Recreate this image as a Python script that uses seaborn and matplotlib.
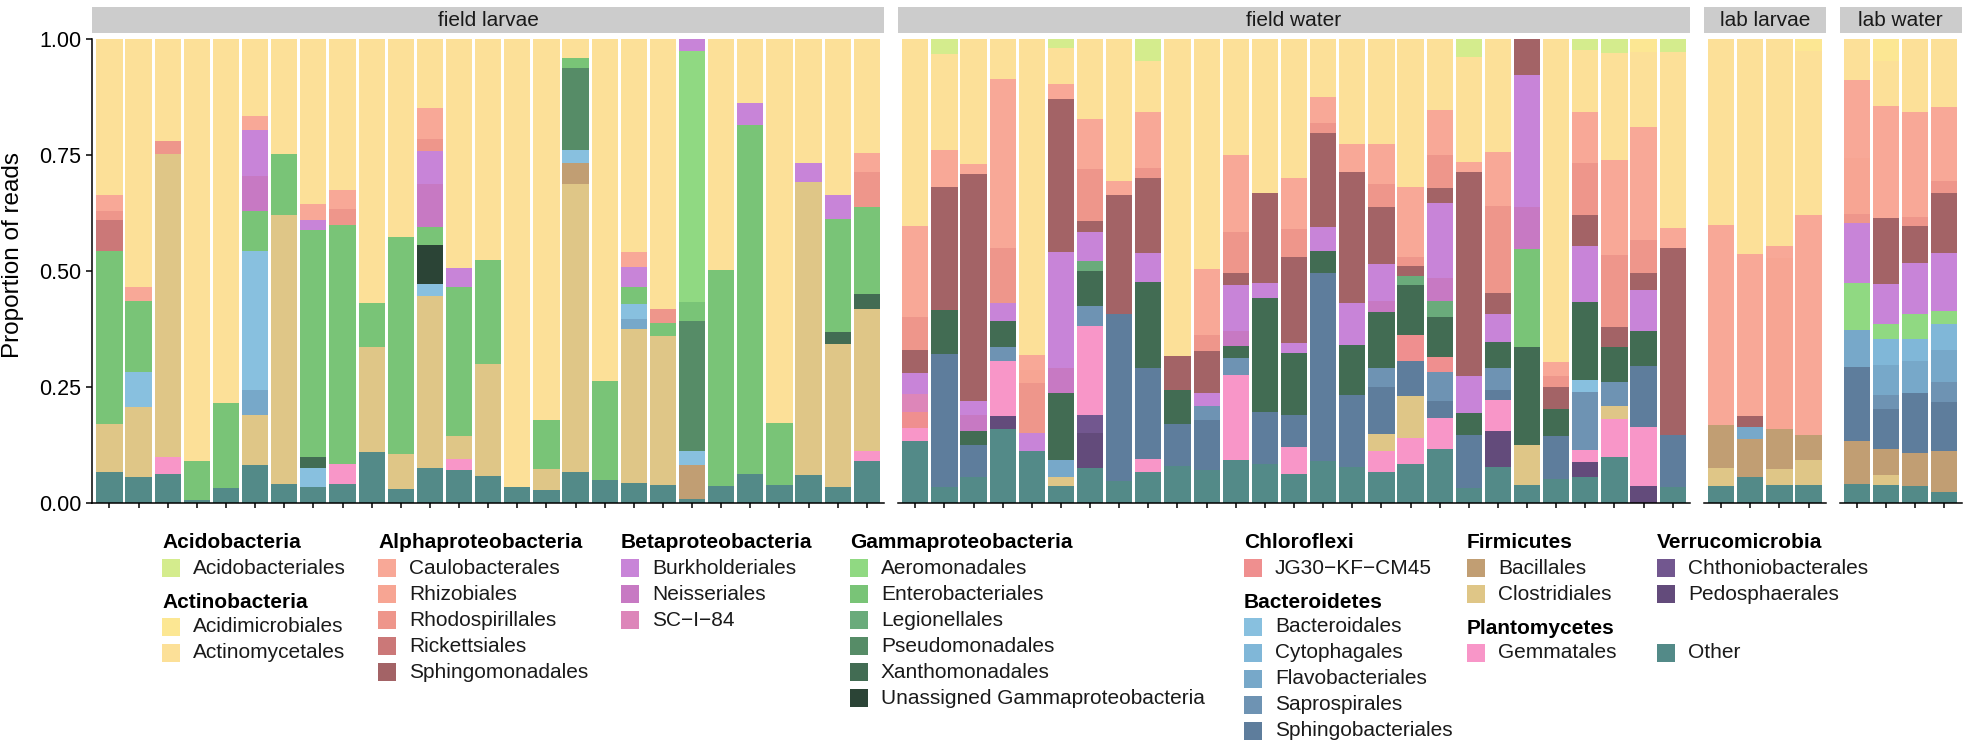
import numpy as np
import pandas as pd
import matplotlib
matplotlib.use("Agg")
import matplotlib.pyplot as plt
from matplotlib.patches import Rectangle
import seaborn as sns

# order codes, top of stack first (same as legend order)
codes = ["Acb", "Aci", "Acm", "Cau", "Rhz", "Rho", "Ric", "Sph", "Bur", "Nei", "SC",
         "Aer", "Ent", "Leg", "Pse", "Xan", "UnG", "JG", "Bcd", "Cyt", "Fla", "Sap",
         "Sbt", "Bac", "Clo", "Gem", "Cht", "Ped", "Oth"]
labels = ["Acidobacteriales", "Acidimicrobiales", "Actinomycetales", "Caulobacterales",
          "Rhizobiales", "Rhodospirillales", "Rickettsiales", "Sphingomonadales",
          "Burkholderiales", "Neisseriales", "SC\u2212I\u221284", "Aeromonadales",
          "Enterobacteriales", "Legionellales", "Pseudomonadales", "Xanthomonadales",
          "Unassigned Gammaproteobacteria", "JG30\u2212KF\u2212CM45", "Bacteroidales",
          "Cytophagales", "Flavobacteriales", "Saprospirales", "Sphingobacteriales",
          "Bacillales", "Clostridiales", "Gemmatales", "Chthoniobacterales",
          "Pedosphaerales", "Other"]
colors = ["#D4EC8D", "#FCE793", "#FCE098", "#F8A897", "#F7A593", "#EE968B", "#CB7878",
          "#A36366", "#C884D8", "#C779C3", "#DD86B9", "#90D982", "#79C477", "#6AAB7B",
          "#568C67", "#426C53", "#2B4436", "#EF8F8F", "#88C0DF", "#80B7D8", "#77A8C9",
          "#6E93B3", "#5E7D9C", "#C19E73", "#DFC687", "#F896C8", "#72578F", "#634B7B",
          "#538A88"]

# each bar: (order, cumulative top of segment) from bottom to top
field_larvae = [
    [("Oth", .067), ("Clo", .170), ("Ent", .544), ("Ric", .609), ("Rho", .630), ("Cau", .663), ("Acm", 1)],
    [("Oth", .056), ("Clo", .207), ("Bcd", .283), ("Ent", .436), ("Cau", .466), ("Acm", 1)],
    [("Oth", .062), ("Gem", .099), ("Clo", .752), ("Rho", .780), ("Acm", 1)],
    [("Oth", .007), ("Ent", .090), ("Acm", 1)],
    [("Oth", .033), ("Ent", .215), ("Acm", 1)],
    [("Oth", .082), ("Clo", .189), ("Fla", .244), ("Bcd", .544), ("Ent", .630), ("Nei", .704), ("Bur", .803), ("Cau", .833), ("Acm", 1)],
    [("Oth", .041), ("Clo", .620), ("Ent", .752), ("Acm", 1)],
    [("Oth", .035), ("Bcd", .075), ("Xan", .100), ("Ent", .589), ("Bur", .610), ("Cau", .644), ("Acm", 1)],
    [("Oth", .041), ("Gem", .084), ("Ent", .599), ("Rho", .634), ("Cau", .674), ("Acm", 1)],
    [("Oth", .109), ("Clo", .336), ("Ent", .432), ("Acm", 1)],
    [("Oth", .031), ("Clo", .106), ("Ent", .574), ("Acm", 1)],
    [("Oth", .075), ("Clo", .447), ("Bcd", .472), ("UnG", .556), ("Ent", .595), ("Nei", .688), ("Bur", .759), ("Rho", .784), ("Cau", .851), ("Acm", 1)],
    [("Oth", .071), ("Gem", .095), ("Clo", .145), ("Ent", .465), ("Bur", .506), ("Acm", 1)],
    [("Oth", .059), ("Clo", .299), ("Ent", .523), ("Acm", 1)],
    [("Oth", .034), ("Acm", 1)],
    [("Oth", .027), ("Clo", .073), ("Ent", .179), ("Acm", 1)],
    [("Oth", .067), ("Clo", .687), ("Bac", .732), ("Bcd", .760), ("Pse", .937), ("Ent", .958), ("Acm", 1)],
    [("Oth", .050), ("Ent", .262), ("Acm", 1)],
    [("Oth", .044), ("Clo", .376), ("Fla", .397), ("Bcd", .429), ("Ent", .465), ("Bur", .508), ("Cau", .542), ("Acm", 1)],
    [("Oth", .039), ("Clo", .359), ("Ent", .388), ("Rho", .419), ("Acm", 1)],
    [("Oth", .009), ("Bac", .082), ("Bcd", .111), ("Pse", .392), ("Ent", .433), ("Aer", .974), ("Bur", 1)],
    [("Oth", .037), ("Ent", .502), ("Acm", 1)],
    [("Oth", .062), ("Ent", .814), ("Bur", .863), ("Acm", 1)],
    [("Oth", .039), ("Ent", .173), ("Acm", 1)],
    [("Oth", .060), ("Clo", .691), ("Bur", .732), ("Acm", 1)],
    [("Oth", .034), ("Clo", .342), ("Xan", .368), ("Ent", .612), ("Bur", .663), ("Acm", 1)],
    [("Oth", .090), ("Gem", .113), ("Clo", .419), ("Xan", .451), ("Ent", .638), ("Rho", .714), ("Cau", .754), ("Acm", 1)],
]

field_water = [
    [("Oth", .134), ("Gem", .162), ("JG", .196), ("SC", .235), ("Bur", .280), ("Sph", .329), ("Rho", .400), ("Cau", .596), ("Acm", 1)],
    [("Oth", .034), ("Sbt", .322), ("Xan", .415), ("Sph", .680), ("Cau", .761), ("Acm", .967), ("Acb", 1)],
    [("Oth", .055), ("Sbt", .125), ("Xan", .156), ("Nei", .189), ("Bur", .220), ("Sph", .709), ("Cau", .731), ("Acm", 1)],
    [("Oth", .159), ("Ped", .188), ("Gem", .307), ("Sap", .337), ("Xan", .393), ("Bur", .432), ("Rho", .549), ("Cau", .913), ("Acm", 1)],
    [("Oth", .113), ("Bur", .151), ("Rho", .258), ("Rhz", .286), ("Cau", .319), ("Acm", 1)],
    [("Oth", .036), ("Clo", .057), ("Fla", .092), ("Xan", .237), ("Nei", .291), ("Bur", .541), ("Sph", .871), ("Cau", .903), ("Acm", .980), ("Acb", 1)],
    [("Oth", .075), ("Ped", .151), ("Cht", .189), ("Gem", .382), ("Sap", .425), ("Xan", .501), ("Leg", .522), ("Bur", .585), ("Sph", .608), ("Rho", .719), ("Cau", .827), ("Acm", 1)],
    [("Oth", .047), ("Sbt", .408), ("Sph", .663), ("Cau", .693), ("Acm", 1)],
    [("Oth", .066), ("Gem", .095), ("Sbt", .292), ("Xan", .477), ("Bur", .538), ("Sph", .701), ("Rho", .723), ("Cau", .843), ("Acm", .953), ("Acb", 1)],
    [("Oth", .079), ("Sbt", .170), ("Xan", .243), ("Sph", .316), ("Acm", 1)],
    [("Oth", .072), ("Sbt", .179), ("Sap", .208), ("Bur", .237), ("Sph", .327), ("Rho", .363), ("Cau", .504), ("Acm", 1)],
    [("Oth", .093), ("Gem", .275), ("Sap", .313), ("Xan", .339), ("Nei", .370), ("Bur", .469), ("Sph", .495), ("Rho", .584), ("Cau", .749), ("Acm", 1)],
    [("Oth", .084), ("Sbt", .197), ("Xan", .441), ("Bur", .475), ("Sph", .668), ("Acm", 1)],
    [("Oth", .063), ("Gem", .120), ("Sbt", .189), ("Xan", .324), ("Bur", .345), ("Sph", .531), ("Rho", .590), ("Cau", .700), ("Acm", 1)],
    [("Oth", .090), ("Sbt", .495), ("Xan", .544), ("Bur", .594), ("Sph", .797), ("Rho", .818), ("Cau", .874), ("Acm", 1)],
    [("Oth", .077), ("Sbt", .233), ("Xan", .340), ("Bur", .431), ("Sph", .714), ("Cau", .773), ("Acm", 1)],
    [("Oth", .066), ("Gem", .113), ("Clo", .149), ("Sbt", .251), ("Sap", .290), ("Xan", .411), ("Nei", .435), ("Bur", .515), ("Sph", .639), ("Rho", .687), ("Cau", .773), ("Acm", 1)],
    [("Oth", .084), ("Gem", .141), ("Clo", .230), ("Sbt", .307), ("JG", .363), ("Xan", .469), ("Leg", .490), ("Sph", .510), ("Rho", .530), ("Cau", .682), ("Acm", 1)],
    [("Oth", .117), ("Gem", .183), ("Sbt", .220), ("Sap", .282), ("JG", .314), ("Xan", .401), ("Leg", .436), ("Nei", .485), ("Bur", .646), ("Sph", .678), ("Rho", .749), ("Cau", .847), ("Acm", 1)],
    [("Oth", .032), ("Sbt", .146), ("Xan", .194), ("Bur", .273), ("Sph", .714), ("Cau", .734), ("Acm", .961), ("Acb", 1)],
    [("Oth", .077), ("Ped", .156), ("Gem", .223), ("Sbt", .243), ("Sap", .290), ("Xan", .348), ("Bur", .407), ("Sph", .452), ("Rho", .640), ("Cau", .756), ("Acm", 1)],
    [("Oth", .038), ("Clo", .125), ("Xan", .337), ("Ent", .547), ("Nei", .637), ("Bur", .922), ("Sph", 1)],
    [("Oth", .052), ("Sbt", .145), ("Xan", .203), ("Sph", .250), ("Rho", .273), ("Cau", .304), ("Acm", 1)],
    [("Oth", .057), ("Ped", .089), ("Gem", .115), ("Sap", .239), ("Bcd", .266), ("Xan", .434), ("Bur", .553), ("Sph", .620), ("Rho", .732), ("Cau", .842), ("Acm", .976), ("Acb", 1)],
    [("Oth", .099), ("Gem", .180), ("Clo", .209), ("Sap", .260), ("Xan", .336), ("Sph", .379), ("Rho", .535), ("Cau", .739), ("Acm", .969), ("Acb", 1)],
    [("Ped", .036), ("Gem", .163), ("Sbt", .296), ("Xan", .370), ("Bur", .459), ("Sph", .495), ("Rho", .567), ("Cau", .811), ("Acm", .973), ("Aci", 1)],
    [("Oth", .034), ("Sbt", .147), ("Sph", .550), ("Cau", .593), ("Acm", .971), ("Acb", 1)],
]

lab_larvae = [
    [("Oth", .037), ("Clo", .075), ("Bac", .169), ("Cau", .599), ("Acm", 1)],
    [("Oth", .057), ("Bac", .138), ("Fla", .164), ("Sph", .187), ("Cau", .537), ("Acm", 1)],
    [("Oth", .038), ("Clo", .073), ("Bac", .160), ("Rhz", .528), ("Cau", .553), ("Acm", 1)],
    [("Oth", .038), ("Clo", .092), ("Bac", .147), ("Cau", .621), ("Acm", .975), ("Aci", 1)],
]

lab_water = [
    [("Oth", .041), ("Bac", .133), ("Sbt", .294), ("Fla", .372), ("Aer", .474), ("Bur", .603), ("Rho", .623), ("Rhz", .743), ("Cau", .912), ("Acm", 1)],
    [("Oth", .039), ("Clo", .061), ("Bac", .116), ("Sbt", .203), ("Sap", .233), ("Fla", .298), ("Cyt", .353), ("Aer", .386), ("Bur", .472), ("Sph", .614), ("Cau", .856), ("Acm", .953), ("Aci", 1)],
    [("Oth", .036), ("Bac", .108), ("Sbt", .237), ("Fla", .305), ("Cyt", .353), ("Aer", .408), ("Bur", .517), ("Sph", .596), ("Rho", .616), ("Cau", .843), ("Acm", 1)],
    [("Oth", .024), ("Bac", .111), ("Sbt", .218), ("Sap", .260), ("Fla", .329), ("Cyt", .385), ("Aer", .413), ("Bur", .538), ("Sph", .668), ("Rho", .694), ("Cau", .854), ("Acm", 1)],
]

facet_names = ["field larvae", "field water", "lab larvae", "lab water"]

legend_columns = [
    [("Acidobacteria", ["Acb"]), ("Actinobacteria", ["Aci", "Acm"])],
    [("Alphaproteobacteria", ["Cau", "Rhz", "Rho", "Ric", "Sph"])],
    [("Betaproteobacteria", ["Bur", "Nei", "SC"])],
    [("Gammaproteobacteria", ["Aer", "Ent", "Leg", "Pse", "Xan", "UnG"])],
    [("Chloroflexi", ["JG"]), ("Bacteroidetes", ["Bcd", "Cyt", "Fla", "Sap", "Sbt"])],
    [("Firmicutes", ["Bac", "Clo"]), ("Plantomycetes", ["Gem"])],
    [("Verrucomicrobia", ["Cht", "Ped"]), ("", ["Oth"])],
]

sns.set_theme(style="ticks")
plt.rcParams["font.family"] = ["Liberation Sans", "DejaVu Sans"]

palette = dict(zip(codes, colors))
label_of = dict(zip(codes, labels))

W, H = 1968, 748
fig = plt.figure(figsize=(W / 100, H / 100), dpi=100)

# full-figure pixel axes for strips and legend
lay = fig.add_axes([0, 0, 1, 1])
lay.set_xlim(0, W)
lay.set_ylim(H, 0)
lay.set_axis_off()

unit = 29.13
gap = 13.5
top_px, bot_px = 39, 503
left = 92
facets = [field_larvae, field_water, lab_larvae, lab_water]

for k, (name, bars) in enumerate(zip(facet_names, facets)):
    n = len(bars)
    wpx = (n + 0.2) * unit
    ax = fig.add_axes([left / W, (H - bot_px) / H, wpx / W, (bot_px - top_px) / H])

    rows = []
    for i, bar in enumerate(bars):
        vals = dict.fromkeys(codes, 0.0)
        prev = 0.0
        for code, top in bar:
            vals[code] = top - prev
            prev = top
        for code in codes:
            rows.append((i, code, vals[code]))
    df = pd.DataFrame(rows, columns=["sample", "order", "prop"])

    sns.histplot(data=df, x="sample", weights="prop", hue="order", hue_order=codes,
                 palette=palette, multiple="stack", discrete=True, shrink=0.9,
                 linewidth=0, edgecolor="none", alpha=1, legend=False, ax=ax)

    ax.set_xlim(-0.6, n - 0.4)
    ax.set_ylim(0, 1)
    ax.set_xlabel("")
    ax.set_ylabel("")
    ax.set_xticks(range(n))
    ax.set_xticklabels([])
    ax.tick_params(axis="x", length=3.6, width=1.1, color="black")
    for s in ax.spines.values():
        s.set_linewidth(1.1)
        s.set_color("black")
    ax.spines["top"].set_visible(False)
    ax.spines["right"].set_visible(False)
    if k == 0:
        ax.set_yticks([0, .25, .5, .75, 1])
        ax.set_yticklabels(["0.00", "0.25", "0.50", "0.75", "1.00"])
        ax.tick_params(axis="y", length=4.3, width=1.1, pad=3.6, labelsize=15.5,
                       color="black", labelcolor="black")
    else:
        ax.spines["left"].set_visible(False)
        ax.set_yticks([])

    # facet strip
    lay.add_patch(Rectangle((left, 7), wpx, 26, facecolor="#CCCCCC", edgecolor="none"))
    lay.text(left + wpx / 2, 20.5, name, ha="center", va="center", fontsize=15, color="#1A1A1A")

    left += wpx + gap

fig.text(13 / W, 1 - 255 / H, "Proportion of reads", rotation=90, ha="center",
         va="center", fontsize=17.5, color="black")

# legend
col_x = [162, 378, 621, 850, 1244, 1467, 1657]
for cx, blocks in zip(col_x, legend_columns):
    y = 543
    for title, items in blocks:
        if title:
            lay.text(cx, y, title, ha="left", va="center", fontsize=15,
                     fontweight="bold", color="black")
        y += 25
        for code in items:
            lay.add_patch(Rectangle((cx, y - 9), 17.5, 18, facecolor=palette[code],
                                    edgecolor="none"))
            lay.text(cx + 31, y, label_of[code], ha="left", va="center",
                     fontsize=15, color="#1A1A1A")
            y += 26
        y += 34 - 26

fig.savefig("out.png", dpi=100)
